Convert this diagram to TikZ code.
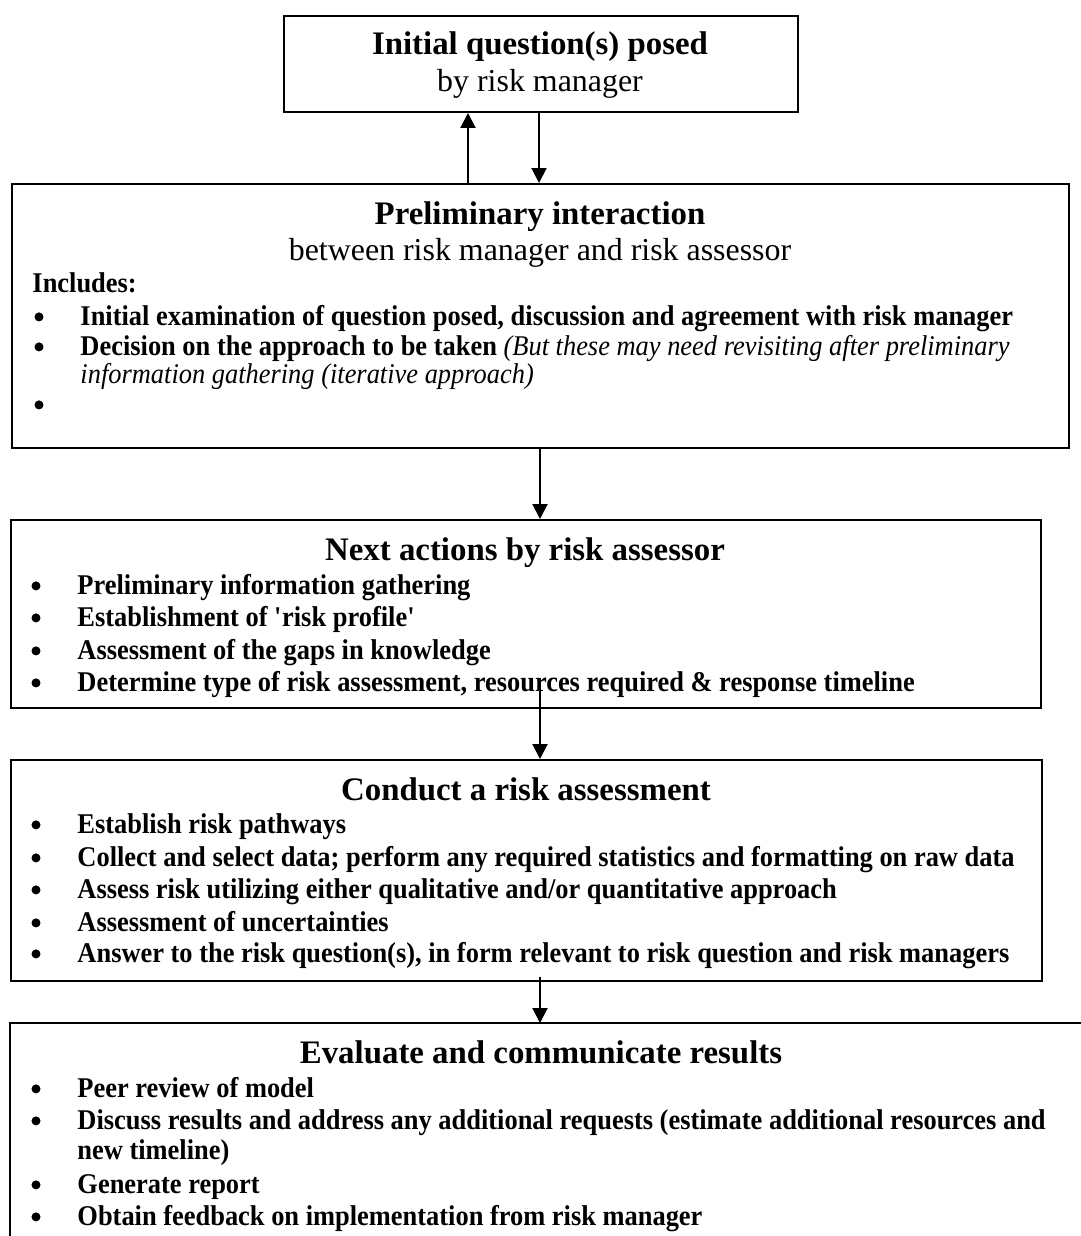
\documentclass[tikz,border=0pt]{standalone}
\usepackage{fontspec}
\setmainfont{Liberation Serif}
\newfontfamily\itmfont{Liberation Serif}[FakeStretch=0.925]
\usetikzlibrary{arrows.meta}
\begin{document}
\begin{tikzpicture}[x=0.42pt,y=-0.42pt,
  box/.style={draw, line width=0.85pt, rectangle, inner sep=0pt, anchor=north west},
  edge/.style={line width=0.85pt},
  ttl/.style={anchor=base, font=\fontsize{13.8}{16}\selectfont\bfseries, inner sep=0pt},
  sub/.style={anchor=base, font=\fontsize{13.4}{16}\selectfont, inner sep=0pt},
  itm/.style={anchor=base west, font=\itmfont\fontsize{12}{14}\selectfont\bfseries, inner sep=0pt},
  dot/.style={circle, fill=black, inner sep=0pt, minimum size=3.8pt, yshift=3.4pt},
  arr/.style={line width=0.85pt, -{Triangle[width=6.3pt,length=6.3pt]}}]
\useasboundingbox (0,0) rectangle (1081,1236);

% boxes
\node[box, minimum width=215.9pt, minimum height=40.3pt] (b1) at (283,15) {};
\node[box, minimum width=443.9pt, minimum height=110.9pt] (b2) at (11,183) {};
\node[box, minimum width=432.6pt, minimum height=79.0pt] (b3) at (10,519) {};
\node[box, minimum width=433.0pt, minimum height=92.8pt] (b4) at (10,759) {};
\node[anchor=north west, inner sep=0pt, minimum width=452pt, minimum height=92pt] (b5) at (10,1023) {};
\draw[edge] (b5.north east) -- (b5.north west) -- (b5.south west);

% connectors
\coordinate (u) at (468,0);
\coordinate (d) at (539,0);
\coordinate (m) at (540,0);
\draw[arr] (u |- b2.north) -- (u |- b1.south);
\draw[arr] (d |- b1.south) -- (d |- b2.north);
\draw[arr] (m |- b2.south) -- (m |- b3.north);
\draw[arr] ([yshift=7.5pt]m |- b3.south) -- (m |- b4.north);
\draw[arr] ([yshift=2pt]m |- b4.south) -- (m |- b5.north);

% box 1
\node[ttl] (t1a) at (540,54) {Initial question(s) posed};
\node[sub] (t1b) at (540,91) {by risk manager};

% box 2
\node[ttl] (t2a) at (540,224) {Preliminary interaction};
\node[sub] (t2b) at (540,260) {between risk manager and risk assessor};
\node[itm] (inc) at (32,292) {Includes:};
\node[dot] (p1) at (39,325) {};
\node[itm] (i1) at (80,325) {Initial examination of question posed, discussion and agreement with risk manager};
\node[dot] (p2) at (39,355) {};
\node[itm] (i2) at (80,355) {Decision on the approach to be taken \mdseries\itshape (But these may need revisiting after preliminary};
\node[itm, font=\itmfont\fontsize{12}{14}\selectfont\itshape] (i2b) at (80,383) {information gathering (iterative approach)};
\node[dot] (p3) at (39,413) {};

% box 3
\node[ttl] (t3) at (525,560) {Next actions by risk assessor};
\node[dot] (q1) at (36,594) {};
\node[itm] (j1) at (77,594) {Preliminary information gathering};
\node[dot] (q2) at (36,626) {};
\node[itm] (j2) at (77,626) {Establishment of \textquotesingle risk profile\textquotesingle};
\node[dot] (q3) at (36,659) {};
\node[itm] (j3) at (77,659) {Assessment of the gaps in knowledge};
\node[dot] (q4) at (36,691) {};
\node[itm] (j4) at (77,691) {Determine type of risk assessment, resources required \& response timeline};

% box 4
\node[ttl] (t4) at (526,800) {Conduct a risk assessment};
\node[dot] (r1) at (36,833) {};
\node[itm] (k1) at (77,833) {Establish risk pathways};
\node[dot] (r2) at (36,866) {};
\node[itm] (k2) at (77,866) {Collect and select data; perform any required statistics and formatting on raw data};
\node[dot] (r3) at (36,898) {};
\node[itm] (k3) at (77,898) {Assess risk utilizing either qualitative and/or quantitative approach};
\node[dot] (r4) at (36,931) {};
\node[itm] (k4) at (77,931) {Assessment of uncertainties};
\node[dot] (r5) at (36,962) {};
\node[itm] (k5) at (77,962) {Answer to the risk question(s), in form relevant to risk question and risk managers};

% box 5
\node[ttl] (t5) at (541,1063) {Evaluate and communicate results};
\node[dot] (s1) at (36,1097) {};
\node[itm] (l1) at (77,1097) {Peer review of model};
\node[dot] (s2) at (36,1129) {};
\node[itm] (l2) at (77,1129) {Discuss results and address any additional requests (estimate additional resources and};
\node[itm] (l2b) at (77,1159) {new timeline)};
\node[dot] (s3) at (36,1193) {};
\node[itm] (l3) at (77,1193) {Generate report};
\node[dot] (s4) at (36,1225) {};
\node[itm] (l4) at (77,1225) {Obtain feedback on implementation from risk manager};
\end{tikzpicture}
\end{document}
